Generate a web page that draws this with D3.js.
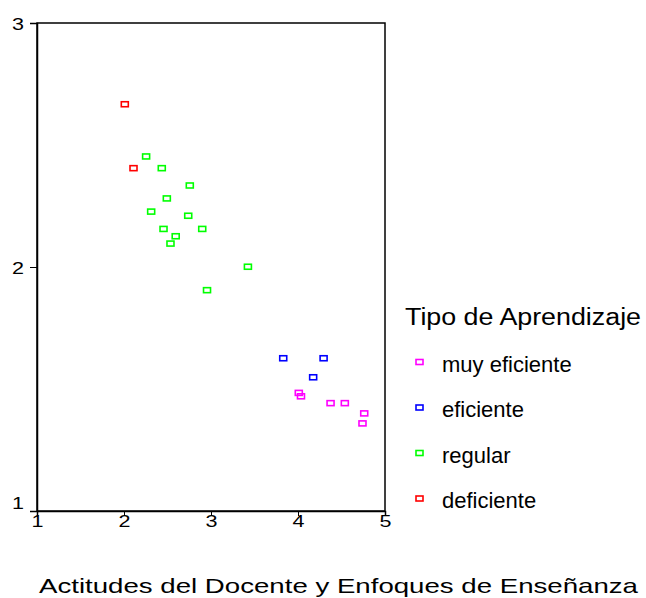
<!DOCTYPE html>
<html><head><meta charset="utf-8">
<script src="https://cdn.jsdelivr.net/npm/d3@7"></script>
<style>body{margin:0;background:#fff}svg{display:block;font-family:Arial,"Liberation Sans",sans-serif}</style>
</head><body><svg id="c" width="646" height="598"></svg>
<script>
const categories = ["muy eficiente","eficiente","regular","deficiente"];
const colors = ["#ff00ff","#0000ff","#00ff00","#ff0000"];
const muyEficiente = [[4.015,1.482],[4.04,1.468],[4.38,1.440],[4.544,1.440],[4.767,1.398],[4.747,1.357]];
const eficiente = [[3.836,1.624],[4.30,1.624],[4.18,1.546]];
const regular = [[2.26,2.451],[2.44,2.403],[2.762,2.332],[2.498,2.279],[2.318,2.225],[2.744,2.208],[2.46,2.154],[2.905,2.154],[2.60,2.124],[2.54,2.094],[3.43,1.999],[2.96,1.903]];
const deficiente = [[2.015,2.665],[2.115,2.403]];
const xTicks = [1,2,3,4,5];
const yTicks = [1,2,3];
const xTitle = "Actitudes del Docente y Enfoques de Enseñanza";
const legendTitle = "Tipo de Aprendizaje";

const series = [muyEficiente, eficiente, regular, deficiente];
const svg = d3.select("#c");
const x = d3.scaleLinear().domain([1,5]).range([37,385]);
const y = d3.scaleLinear().domain([1,3]).range([511,23]);

// frame
svg.append("rect").attr("x",x(1)).attr("y",y(3)).attr("width",x(5)-x(1)).attr("height",y(1)-y(3))
  .attr("fill","none").attr("stroke","#000").attr("stroke-width",1.5);

const xa = svg.append("g").attr("transform",`translate(0,${y(1)})`)
  .call(d3.axisBottom(x).tickValues(xTicks).tickSize(5).tickFormat(d3.format("d")));
const ya = svg.append("g").attr("transform",`translate(${x(1)},0)`)
  .call(d3.axisLeft(y).tickValues(yTicks).tickSize(7).tickFormat(d3.format("d")));
[xa,ya].forEach(a=>{
  a.select(".domain").attr("stroke","#000").attr("stroke-width",1.5);
  a.selectAll(".tick line").attr("stroke","#000").attr("stroke-width",1);
  a.selectAll("text").attr("font-size",17).attr("fill","#000")
   .attr("font-family","Arial, 'Liberation Sans', sans-serif")
   .attr("textLength",12).attr("lengthAdjust","spacingAndGlyphs");
});
xa.selectAll("text").attr("y",16).attr("dy",0);
ya.selectAll("text").attr("x",-13).attr("dy","0.36em");
ya.selectAll(".tick").filter(d=>d===1).select("text").attr("y",-9);

// points
series.forEach((s,i)=>{
  svg.append("g").selectAll("rect").data(s).join("rect")
    .attr("x",d=>x(d[0])-4).attr("y",d=>y(d[1])-3)
    .attr("width",7).attr("height",5)
    .attr("fill","none").attr("stroke",colors[i]).attr("stroke-width",1.6);
});

// x title
svg.append("text").attr("x",39).attr("y",593)
  .attr("font-size",21).attr("fill","#000")
  .attr("textLength",599).attr("lengthAdjust","spacingAndGlyphs").text(xTitle);

// legend
svg.append("text").attr("x",405).attr("y",325).attr("font-size",23).attr("fill","#000")
  .attr("textLength",236).attr("lengthAdjust","spacingAndGlyphs").text(legendTitle);
const lg = svg.append("g").selectAll("g").data(categories).join("g")
  .attr("transform",(d,i)=>`translate(0,${371.5+i*45.5})`);
lg.append("rect").attr("x",416).attr("y",-12).attr("width",7).attr("height",5)
  .attr("fill","none").attr("stroke",(d,i)=>colors[i]).attr("stroke-width",1.6);
lg.append("text").attr("x",442).attr("y",0).attr("font-size",22).attr("fill","#000").text(d=>d);
</script></body></html>
